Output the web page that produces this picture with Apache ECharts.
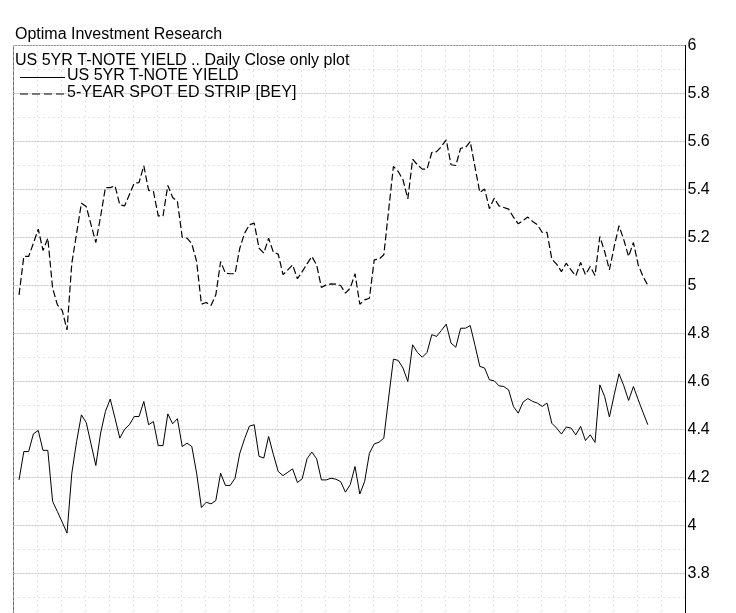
<!DOCTYPE html>
<html>
<head>
<meta charset="utf-8">
<style>
  html, body { margin: 0; padding: 0; background: #fff; overflow: hidden; }
  #chart { width: 736px; height: 613px; }
</style>
<script src="https://cdn.jsdelivr.net/npm/echarts@6/dist/echarts.min.js"></script>
</head>
<body>
<div id="chart"></div>
<script>
// Daily closes (trading-day index 0..131)
var treasury5yr = [
  4.190, 4.308, 4.308, 4.382, 4.396, 4.313, 4.313, 4.100, 4.058, 4.014,
  3.968, 4.218, 4.350, 4.461, 4.429, 4.340, 4.250, 4.385, 4.475, 4.527,
  4.447, 4.364, 4.401, 4.420, 4.454, 4.454, 4.517, 4.420, 4.433, 4.333,
  4.333, 4.465, 4.424, 4.445, 4.329, 4.343, 4.329, 4.218, 4.075, 4.097,
  4.090, 4.104, 4.218, 4.167, 4.167, 4.197, 4.301, 4.362, 4.414, 4.420,
  4.288, 4.281, 4.371, 4.295, 4.225, 4.208, 4.222, 4.236, 4.179, 4.195,
  4.278, 4.306, 4.278, 4.190, 4.190, 4.197, 4.193, 4.183, 4.139, 4.170,
  4.246, 4.131, 4.183, 4.301, 4.340, 4.347, 4.364, 4.531, 4.693, 4.688,
  4.656, 4.600, 4.753, 4.721, 4.701, 4.721, 4.795, 4.788, 4.813, 4.839,
  4.760, 4.743, 4.822, 4.822, 4.833, 4.750, 4.663, 4.656, 4.607, 4.603,
  4.582, 4.579, 4.565, 4.496, 4.468, 4.514, 4.529, 4.517, 4.510, 4.496,
  4.510, 4.426, 4.406, 4.381, 4.410, 4.406, 4.378, 4.413, 4.354, 4.378,
  4.346, 4.586, 4.538, 4.452, 4.545, 4.632, 4.582, 4.521, 4.579, 4.524,
  4.471, 4.420
];
var edStrip5yr = [
  4.961, 5.121, 5.121, 5.176, 5.235, 5.146, 5.197, 4.989, 4.919, 4.896,
  4.815, 5.093, 5.218, 5.343, 5.329, 5.254, 5.179, 5.288, 5.408, 5.408,
  5.415, 5.336, 5.332, 5.379, 5.426, 5.429, 5.499, 5.396, 5.392, 5.290,
  5.290, 5.417, 5.367, 5.350, 5.201, 5.197, 5.174, 5.100, 4.922, 4.929,
  4.917, 4.961, 5.100, 5.051, 5.049, 5.049, 5.156, 5.218, 5.253, 5.260,
  5.156, 5.135, 5.197, 5.138, 5.131, 5.045, 5.065, 5.086, 5.028, 5.058,
  5.090, 5.121, 5.086, 4.992, 5.003, 5.007, 5.006, 5.000, 4.968, 4.989,
  5.049, 4.922, 4.940, 4.947, 5.107, 5.110, 5.128, 5.313, 5.496, 5.475,
  5.440, 5.361, 5.526, 5.503, 5.485, 5.485, 5.554, 5.558, 5.579, 5.607,
  5.503, 5.500, 5.572, 5.575, 5.600, 5.493, 5.388, 5.402, 5.320, 5.364,
  5.332, 5.325, 5.318, 5.285, 5.257, 5.271, 5.285, 5.267, 5.253, 5.221,
  5.221, 5.110, 5.089, 5.058, 5.093, 5.065, 5.040, 5.096, 5.045, 5.079,
  5.042, 5.204, 5.142, 5.065, 5.163, 5.249, 5.190, 5.121, 5.179, 5.086,
  5.038, 5.000
];
var seriesNames = ['US 5YR T-NOTE YIELD', '5-YEAR SPOT ED STRIP [BEY]'];
var yTicks = { min: 3.6, max: 6, step: 0.2 };
var titleText = 'Optima Investment Research';
var subtitleText = 'US 5YR T-NOTE YIELD .. Daily Close only plot';

var FONT = '"Liberation Sans", Arial, sans-serif';
var X_OFFSET = 1.15; // axis units between plot's left edge and first trading day

function toXY(arr) {
  return arr.map(function (v, i) { return [i + X_OFFSET, v]; });
}

var chart = echarts.init(document.getElementById('chart'), null, { renderer: 'canvas' });
chart.setOption({
  animation: false,
  backgroundColor: '#ffffff',
  grid: {
    left: 13.5, right: 50.5, top: 45.5, bottom: -8.5,
    outerBoundsMode: 'none', containLabel: false,
    show: true, borderColor: '#6e6e6e', borderWidth: 1, backgroundColor: 'transparent'
  },
  xAxis: {
    type: 'value', min: 0, max: 140, interval: 5,
    axisLine: { show: false }, axisTick: { show: false }, axisLabel: { show: false },
    splitLine: { show: true, lineStyle: { color: '#c4c4c4', width: 1, type: [1, 4] } }
  },
  yAxis: {
    type: 'value', position: 'right',
    min: yTicks.min, max: yTicks.max, interval: yTicks.step,
    axisLine: { show: true, onZero: false, lineStyle: { color: '#000', width: 1 } },
    axisTick: { show: false },
    axisLabel: { show: true, color: '#000', fontSize: 16, fontFamily: FONT, margin: 2 },
    splitLine: { show: true, lineStyle: { color: '#c4c4c4', width: 1, type: [2, 1] } },
    minorTick: { show: false, splitNumber: 2 },
    minorSplitLine: { show: true, lineStyle: { color: '#c4c4c4', width: 1, type: [1, 4] } }
  },
  series: [
    {
      name: seriesNames[0], type: 'line', data: toXY(treasury5yr),
      symbol: 'none', lineStyle: { color: '#000', width: 1, type: 'solid' }, z: 3
    },
    {
      name: seriesNames[1], type: 'line', data: toXY(edStrip5yr),
      symbol: 'none', lineStyle: { color: '#000', width: 1.2, type: [7, 3] }, z: 3
    }
  ],
  graphic: [
    { type: 'text', left: 15, top: 27, z: 10,
      style: { text: titleText, font: '16px ' + FONT, fill: '#000' } },
    { type: 'text', left: 15, top: 53, z: 10,
      style: { text: subtitleText, font: '16px ' + FONT, fill: '#000' } },
    { type: 'line', z: 10, shape: { x1: 20, y1: 77.5, x2: 65, y2: 77.5 },
      style: { stroke: '#000', lineWidth: 1 } },
    { type: 'text', left: 67, top: 68, z: 10,
      style: { text: seriesNames[0], font: '16px ' + FONT, fill: '#000' } },
    { type: 'line', z: 10, shape: { x1: 20, y1: 94, x2: 65, y2: 94 },
      style: { stroke: '#000', lineWidth: 1.2, lineDash: [8, 4] } },
    { type: 'text', left: 67, top: 85, z: 10,
      style: { text: seriesNames[1], font: '16px ' + FONT, fill: '#000' } }
  ]
});
</script>
</body>
</html>
